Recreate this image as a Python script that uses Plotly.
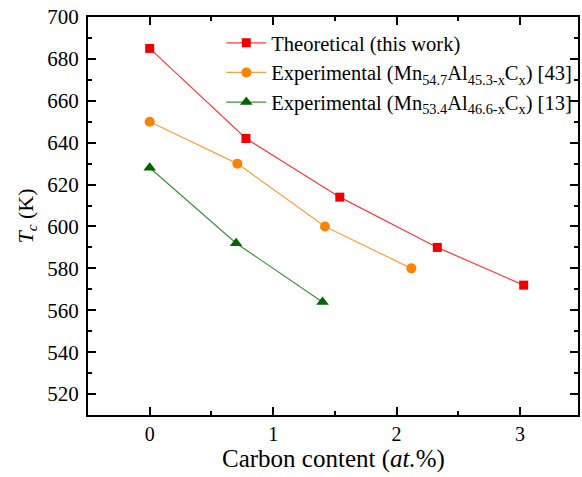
import plotly.graph_objects as go

# Data
theo_x = [0, 0.78, 1.54, 2.33, 3.03]
theo_y = [685, 642, 614, 590, 572]
exp43_x = [0, 0.71, 1.42, 2.12]
exp43_y = [650, 630, 600, 580]
exp13_x = [0, 0.70, 1.40]
exp13_y = [628, 592, 564]

names = [
    "Theoretical (this work)",
    "Experimental (Mn<sub>54.7</sub>Al<sub>45.3-x</sub>C<sub>x</sub>) [43]",
    "Experimental (Mn<sub>53.4</sub>Al<sub>46.6-x</sub>C<sub>x</sub>) [13]",
]
x_title = "Carbon content (<i>at.</i>%)"
y_title = "<i>T<sub>c</sub></i> (K)"

font_family = "Liberation Serif, Times New Roman, serif"

fig = go.Figure()
fig.add_trace(go.Scatter(
    x=theo_x, y=theo_y, mode="lines+markers", name=names[0],
    line=dict(color="#ff3b3b", width=1.2),
    marker=dict(symbol="square", size=9, color="#ee0000"),
))
fig.add_trace(go.Scatter(
    x=exp43_x, y=exp43_y, mode="lines+markers", name=names[1],
    line=dict(color="#ffa040", width=1.2),
    marker=dict(symbol="circle", size=10, color="#ff8200"),
))
fig.add_trace(go.Scatter(
    x=exp13_x, y=exp13_y, mode="lines+markers", name=names[2],
    line=dict(color="#3f8f3f", width=1.2),
    marker=dict(symbol="triangle-up", size=11, color="#006400"),
))

axis_common = dict(
    showline=True, linecolor="black", linewidth=2, mirror="ticks",
    ticks="inside", tickcolor="black", tickwidth=1.5, ticklen=8,
    showgrid=False, zeroline=False,
)

fig.update_xaxes(
    range=[-0.5, 3.47], tickmode="array", tickvals=[0, 1, 2, 3],
    minor=dict(ticks="inside", ticklen=4, tickwidth=1.5, tickcolor="black",
               tickvals=[-0.5, 0.5, 1.5, 2.5]),
    tickfont=dict(family=font_family, size=20, color="black"),
    **axis_common,
)
fig.update_yaxes(
    range=[510, 700], tickmode="array", tickvals=list(range(520, 701, 20)),
    minor=dict(ticks="inside", ticklen=4, tickwidth=1.5, tickcolor="black",
               tickvals=list(range(510, 700, 20))),
    tickfont=dict(family=font_family, size=21, color="black"),
    title=dict(text=y_title,
               font=dict(family=font_family, size=22, color="black"), standoff=8),
    ticklabelstandoff=3,
    **axis_common,
)

fig.add_annotation(
    text=x_title, xref="paper", yref="paper", x=0.5, y=-0.11,
    xanchor="center", yanchor="middle", showarrow=False,
    font=dict(family=font_family, size=25, color="black"),
)

fig.update_layout(
    width=582, height=477,
    margin=dict(l=88, r=2, t=17, b=62),
    paper_bgcolor="white", plot_bgcolor="white",
    font=dict(family=font_family, color="black"),
    legend=dict(
        x=0.272, y=0.985, xanchor="left", yanchor="top",
        bgcolor="rgba(0,0,0,0)", borderwidth=0,
        font=dict(family=font_family, size=20.5, color="black"),
        tracegroupgap=0, itemwidth=40,
    ),
    showlegend=True,
)

fig.write_html("out.html")
